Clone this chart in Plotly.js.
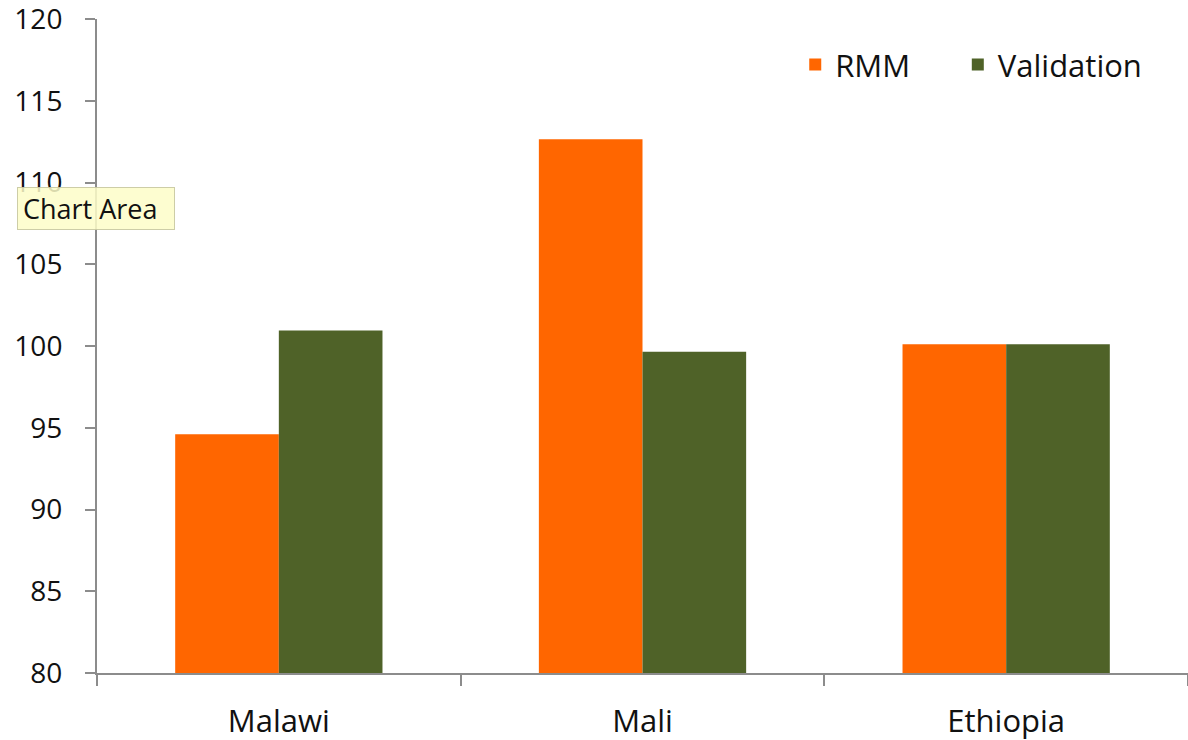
<!DOCTYPE html>
<html>
<head>
<meta charset="utf-8">
<script src="https://cdn.plot.ly/plotly-3.0.1.min.js"></script>
<style>html,body{margin:0;padding:0;background:#fff;}#chart{width:1188px;height:740px;}</style>
</head>
<body>
<div id="chart"></div>
<script>
var countries = ["Malawi", "Mali", "Ethiopia"];
var rmmValues = [94.6, 112.65, 100.1];
var validationValues = [100.95, 99.65, 100.1];
var yTickValues = [80, 85, 90, 95, 100, 105, 110, 115, 120];

var FONT = "'Open Sans', Lato, sans-serif";

var traces = [
  {type: "bar", name: "RMM", x: countries, y: rmmValues, marker: {color: "#ff6600"}, hoverinfo: "none", legend: "legend"},
  {type: "bar", name: "Validation", x: countries, y: validationValues, marker: {color: "#4f6228"}, hoverinfo: "none", legend: "legend2"}
];

var legendFont = {size: 31, family: FONT, color: "#111"};

var layout = {
  width: 1188, height: 740,
  margin: {l: 97, r: 0, t: 19, b: 67, autoexpand: false},
  paper_bgcolor: "#fff", plot_bgcolor: "#fff",
  barmode: "group", bargap: 0.43, bargroupgap: 0,
  font: {family: FONT, color: "#111"},
  showlegend: true,
  legend: {orientation: "h", x: 0.64, xanchor: "left", y: 0.93, yanchor: "middle",
           font: legendFont, itemclick: false, bgcolor: "rgba(0,0,0,0)"},
  legend2: {orientation: "h", x: 0.789, xanchor: "left", y: 0.93, yanchor: "middle",
           font: legendFont, itemclick: false, bgcolor: "rgba(0,0,0,0)"},
  xaxis: {
    type: "category", showline: true, linecolor: "#8c8c8c", linewidth: 2,
    ticks: "outside", tickson: "boundaries", ticklen: 11, tickcolor: "#8c8c8c", tickwidth: 2,
    tickfont: {size: 31, family: FONT, color: "#111"}, showgrid: false, zeroline: false,
    ticklabelstandoff: 20, automargin: false
  },
  yaxis: {
    range: [80, 120], tickvals: yTickValues, ticktext: yTickValues.map(String),
    showline: true, linecolor: "#8c8c8c", linewidth: 2,
    ticks: "outside", ticklen: 10, tickcolor: "#8c8c8c", tickwidth: 2,
    tickfont: {size: 28, family: FONT, color: "#111"}, showgrid: false, zeroline: false,
    ticklabelstandoff: 17, ticklabeloverflow: "allow", automargin: false
  },
  annotations: [{
    xref: "paper", yref: "paper", x: -0.0733, y: 0.743, xanchor: "left", yanchor: "top",
    text: "Chart Area", showarrow: false, align: "left", width: 146, height: 31,
    font: {size: 27, family: FONT, color: "#111"},
    bgcolor: "rgba(253,253,200,0.85)", bordercolor: "rgba(200,200,160,0.9)", borderwidth: 1,
    borderpad: 5
  }]
};

Plotly.newPlot("chart", traces, layout, {displayModeBar: false, staticPlot: true});
</script>
</body>
</html>
